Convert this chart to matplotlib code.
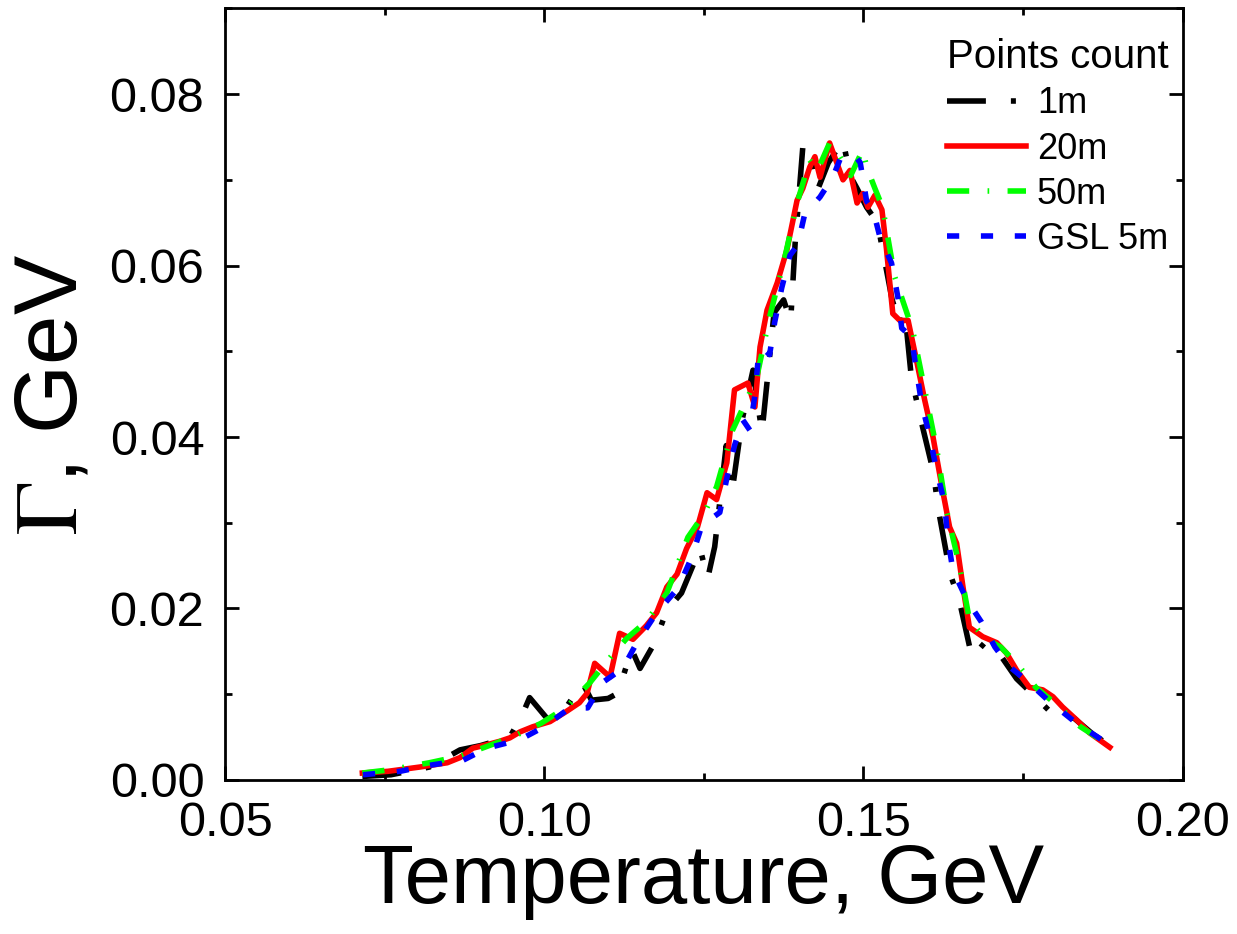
import numpy as np
import matplotlib.pyplot as plt
from matplotlib.ticker import MultipleLocator, FormatStrFormatter

plt.rcParams['font.family'] = ['Liberation Sans', 'DejaVu Sans']
plt.rcParams['mathtext.fontset'] = 'stix'

# 1m
x_1m = [0.0715, 0.0760, 0.0820, 0.0868, 0.0900, 0.0946, 0.0965, 0.0977, 0.1004, 0.1030,
        0.1060, 0.1074, 0.1100, 0.1115, 0.1137, 0.1150, 0.1173, 0.1192, 0.1215, 0.1244,
        0.1256, 0.1267, 0.1285, 0.1294, 0.1310, 0.1327, 0.1341, 0.1360, 0.1375, 0.1386,
        0.1393, 0.1405, 0.1416, 0.1428, 0.1445, 0.1468, 0.1479, 0.1490, 0.1505, 0.1522,
        0.1545, 0.1558, 0.1565, 0.1575, 0.1590, 0.1610, 0.1617, 0.1636, 0.1650, 0.1659,
        0.1670, 0.1690, 0.1715, 0.1740, 0.1765, 0.1792, 0.1810, 0.1830, 0.1860, 0.1890]
y_1m = [0.0004, 0.0006, 0.0015, 0.0035, 0.0040, 0.0050, 0.0075, 0.0096, 0.0072, 0.0080,
        0.0113, 0.0093, 0.0095, 0.0101, 0.0152, 0.0130, 0.0160, 0.0198, 0.0218, 0.0270,
        0.0235, 0.0272, 0.0390, 0.0335, 0.0420, 0.0478, 0.0405, 0.0545, 0.0560, 0.0535,
        0.0626, 0.0738, 0.0738, 0.0688, 0.0720, 0.0746, 0.0705, 0.0690, 0.0668, 0.0650,
        0.0560, 0.0530, 0.0545, 0.0470, 0.0420, 0.0358, 0.0317, 0.0240, 0.0210, 0.0180,
        0.0143, 0.0160, 0.0145, 0.0118, 0.0100, 0.0080, 0.0074, 0.0072, 0.0053, 0.0038]

# 20m
x_20m = [0.0715, 0.0755, 0.0805, 0.0848, 0.0868, 0.0888, 0.0910, 0.0930, 0.0946, 0.0962,
         0.0982, 0.1009, 0.1035, 0.1055, 0.1067, 0.1079, 0.1103, 0.1118, 0.1139, 0.1160,
         0.1176, 0.1192, 0.1208, 0.1223, 0.1240, 0.1255, 0.1270, 0.1286, 0.1298, 0.1319,
         0.1330, 0.1338, 0.1349, 0.1365, 0.1380, 0.1396, 0.1405, 0.1416, 0.1424, 0.1432,
         0.1447, 0.1468, 0.1479, 0.1490, 0.1499, 0.1507, 0.1518, 0.1529, 0.1536, 0.1546,
         0.1557, 0.1570, 0.1583, 0.1596, 0.1609, 0.1624, 0.1635, 0.1646, 0.1656, 0.1666,
         0.1687, 0.1709, 0.1724, 0.1740, 0.1760, 0.1781, 0.1797, 0.1812, 0.1834, 0.1854,
         0.1886]
y_20m = [0.0008, 0.0010, 0.0015, 0.0020, 0.0026, 0.0037, 0.0041, 0.0045, 0.0049, 0.0056,
         0.0062, 0.0068, 0.0080, 0.0090, 0.0101, 0.0136, 0.0120, 0.0171, 0.0164, 0.0180,
         0.0195, 0.0225, 0.0240, 0.0270, 0.0295, 0.0335, 0.0327, 0.0370, 0.0455, 0.0463,
         0.0435, 0.0505, 0.0548, 0.0580, 0.0618, 0.0676, 0.0690, 0.0715, 0.0727, 0.0703,
         0.0743, 0.0700, 0.0711, 0.0673, 0.0684, 0.0668, 0.0682, 0.0665, 0.0620, 0.0544,
         0.0536, 0.0536, 0.0490, 0.0443, 0.0400, 0.0338, 0.0295, 0.0276, 0.0225, 0.0178,
         0.0167, 0.0160, 0.0148, 0.0128, 0.0108, 0.0105, 0.0097, 0.0085, 0.0070, 0.0055,
         0.0038]

# 50m
x_50m = [0.0715, 0.0760, 0.0820, 0.0870, 0.0910, 0.0950, 0.0995, 0.1035, 0.1071, 0.1100,
         0.1129, 0.1160, 0.1192, 0.1225, 0.1250, 0.1270, 0.1295, 0.1315, 0.1333, 0.1353,
         0.1377, 0.1396, 0.1416, 0.1428, 0.1447, 0.1463, 0.1480, 0.1499, 0.1505, 0.1518,
         0.1530, 0.1549, 0.1577, 0.1596, 0.1615, 0.1630, 0.1651, 0.1666, 0.1690, 0.1715,
         0.1740, 0.1770, 0.1807, 0.1840, 0.1890]
y_50m = [0.0008, 0.0012, 0.0020, 0.0028, 0.0039, 0.0050, 0.0066, 0.0085, 0.0113, 0.0140,
         0.0165, 0.0185, 0.0218, 0.0283, 0.0310, 0.0342, 0.0408, 0.0440, 0.0470, 0.0540,
         0.0610, 0.0673, 0.0723, 0.0711, 0.0743, 0.0727, 0.0705, 0.0735, 0.0715, 0.0690,
         0.0668, 0.0587, 0.0525, 0.0455, 0.0385, 0.0315, 0.0248, 0.0187, 0.0165, 0.0155,
         0.0136, 0.0108, 0.0085, 0.0062, 0.0038]

# GSL 5m
x_gsl = [0.0716, 0.0774, 0.0820, 0.0873, 0.0910, 0.0962, 0.1000, 0.1040, 0.1068, 0.1092,
         0.1123, 0.1145, 0.1176, 0.1210, 0.1231, 0.1247, 0.1275, 0.1286, 0.1298, 0.1311,
         0.1322, 0.1330, 0.1335, 0.1342, 0.1353, 0.1361, 0.1372, 0.1385, 0.1397, 0.1408,
         0.1432, 0.1452, 0.1465, 0.1486, 0.1495, 0.1505, 0.1515, 0.1526, 0.1544, 0.1554,
         0.1560, 0.1575, 0.1583, 0.1591, 0.1604, 0.1615, 0.1627, 0.1632, 0.1640, 0.1662,
         0.1685, 0.1706, 0.1729, 0.1760, 0.1789, 0.1834, 0.1873, 0.1885]
y_gsl = [0.0006, 0.0010, 0.0017, 0.0023, 0.0037, 0.0047, 0.0062, 0.0084, 0.0084, 0.0114,
         0.0130, 0.0160, 0.0195, 0.0224, 0.0260, 0.0297, 0.0312, 0.0352, 0.0390, 0.0420,
         0.0408, 0.0449, 0.0490, 0.0504, 0.0496, 0.0534, 0.0574, 0.0612, 0.0624, 0.0660,
         0.0680, 0.0703, 0.0727, 0.0729, 0.0720, 0.0675, 0.0665, 0.0633, 0.0603, 0.0563,
         0.0527, 0.0517, 0.0478, 0.0440, 0.0400, 0.0360, 0.0323, 0.0283, 0.0245, 0.0210,
         0.0184, 0.0155, 0.0132, 0.0113, 0.0093, 0.0066, 0.0047, 0.0038]

fig = plt.figure(figsize=(12.37, 9.34), dpi=100)
ax = fig.add_axes([0.182, 0.165, 0.774, 0.826])

lw = 4
ax.plot(x_1m, y_1m, color='k', lw=lw, dashes=(7, 4.5, 0.9, 4.5), label='1m')
ax.plot(x_20m, y_20m, color='#ff0000', lw=lw, label='20m')
ax.plot(x_50m, y_50m, color='#00ff00', lw=lw, dashes=(4, 3.3, 0.3, 3.3), label='50m')
ax.plot(x_gsl, y_gsl, color='#0000ff', lw=lw, dashes=(2.2, 3.9), label='GSL 5m')

ax.set_xlim(0.05, 0.20)
ax.set_ylim(0.0, 0.09)
ax.xaxis.set_major_locator(MultipleLocator(0.05))
ax.xaxis.set_minor_locator(MultipleLocator(0.025))
ax.yaxis.set_major_locator(MultipleLocator(0.02))
ax.yaxis.set_minor_locator(MultipleLocator(0.01))
ax.xaxis.set_major_formatter(FormatStrFormatter('%.2f'))
ax.yaxis.set_major_formatter(FormatStrFormatter('%.2f'))

ax.tick_params(which='both', direction='in', top=True, right=True, width=2)
ax.tick_params(which='major', length=10, labelsize=35, pad=15)
ax.tick_params(which='minor', length=5)
for s in ax.spines.values():
    s.set_linewidth(2)

ax.set_xlabel('Temperature, GeV', fontsize=60, labelpad=-3)
ax.set_ylabel(r'$\Gamma$, GeV', fontsize=64, labelpad=10)

leg = ax.legend(title='Points count', loc='upper right', bbox_to_anchor=(1.0, 0.98),
                frameon=False, fontsize=26, title_fontsize=29, handlelength=2.2,
                handletextpad=0.3, labelspacing=0.28, borderaxespad=0.0)

plt.savefig('out.png', dpi=100)
